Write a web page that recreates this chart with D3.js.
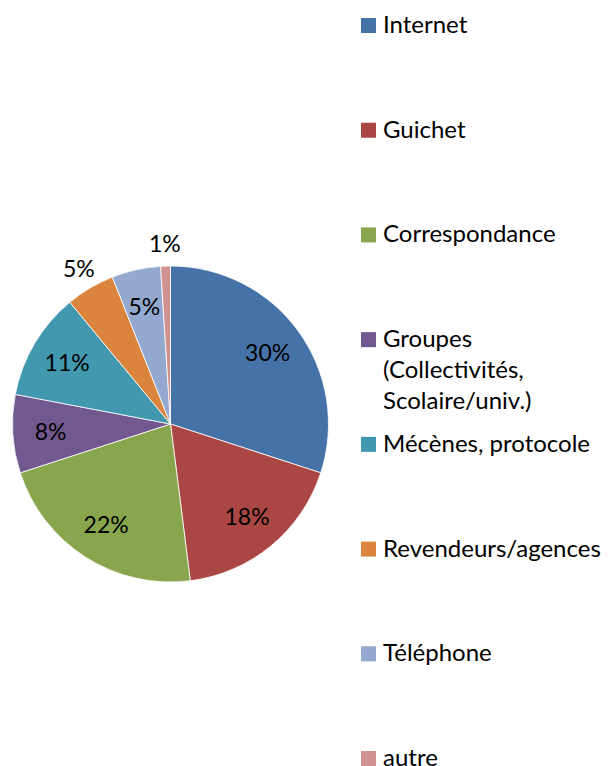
<!DOCTYPE html>
<html>
<head>
<meta charset="utf-8">
<script src="https://cdn.jsdelivr.net/npm/d3@7"></script>
<style>
  body { margin: 0; background: #fff; }
  text { font-family: Lato, "Open Sans", sans-serif; fill: #000; }
</style>
</head>
<body>
<div id="chart"></div>
<script>
// data
var categories = ["Internet", "Guichet", "Correspondance", "Groupes (Collectivités, Scolaire/univ.)",
    "Mécènes, protocole", "Revendeurs/agences", "Téléphone", "autre"];
var legendLines = [["Internet"], ["Guichet"], ["Correspondance"],
    ["Groupes", "(Collectivités,", "Scolaire/univ.)"], ["Mécènes, protocole"],
    ["Revendeurs/agences"], ["Téléphone"], ["autre"]];
var values = [30, 18, 22, 8, 11, 5, 5, 1];
var colors = ["#4572A7", "#AA4643", "#89A54E", "#71588F", "#4198AF", "#DB843D", "#93A9CF", "#D19392"];
// labels Excel put outside the pie (best fit)
var labelOutside = [false, false, false, false, false, true, false, true];

var width = 611;
var height = 766;
var cx = 170.5, cy = 424, radius = 158;

var svg = d3.select("#chart")
    .append("svg")
    .attr("width", width)
    .attr("height", height);

var g = svg.append("g")
    .attr("transform", "translate(" + cx + "," + cy + ")");

var pie = d3.pie().sort(null).value(function (d) { return d; });
var arcs = pie(values);

var arc = d3.arc().innerRadius(0).outerRadius(radius);
var labelArcIn = d3.arc().innerRadius(radius * 0.76).outerRadius(radius * 0.76);
var labelArcOut = d3.arc().innerRadius(radius * 1.14).outerRadius(radius * 1.14);

// slices
g.selectAll("path")
    .data(arcs)
    .enter()
    .append("path")
    .attr("d", arc)
    .attr("fill", function (d, i) { return colors[i]; })
    .attr("stroke", "#fff")
    .attr("stroke-width", 0.8);

// percent labels
var total = d3.sum(values);
g.selectAll(".pct")
    .data(arcs)
    .enter()
    .append("text")
    .attr("class", "pct")
    .attr("transform", function (d, i) {
        var c = labelOutside[i] ? labelArcOut.centroid(d) : labelArcIn.centroid(d);
        return "translate(" + c[0] + "," + c[1] + ")";
    })
    .attr("text-anchor", "middle")
    .attr("dy", "0.35em")
    .style("font-size", "23px")
    .text(function (d) { return Math.round(d.value / total * 100) + "%"; });

// legend
var legendY = d3.scaleLinear().domain([0, categories.length - 1]).range([18, 751]);

var legend = svg.append("g")
    .selectAll("g")
    .data(categories)
    .enter()
    .append("g")
    .attr("transform", function (d, i) { return "translate(361," + legendY(i) + ")"; });

legend.append("rect")
    .attr("width", 15)
    .attr("height", 15)
    .attr("fill", function (d, i) { return colors[i]; });

legend.append("text")
    .attr("x", 22)
    .attr("y", 15)
    .style("font-size", "24px")
    .selectAll("tspan")
    .data(function (d, i) { return legendLines[i]; })
    .enter()
    .append("tspan")
    .attr("x", 22)
    .attr("dy", function (d, j) { return j === 0 ? 0 : 31; })
    .text(function (d) { return d; });
</script>
</body>
</html>
